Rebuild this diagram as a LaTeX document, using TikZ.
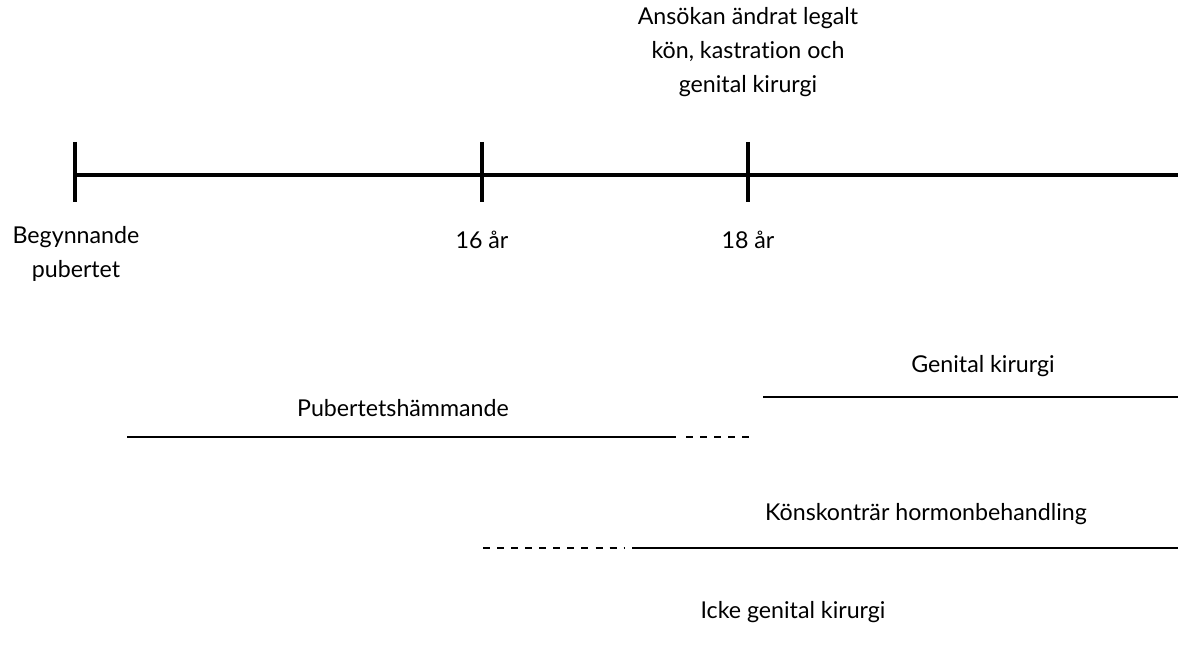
\documentclass[tikz,border=0pt]{standalone}
\usepackage{fontspec}
\setmainfont{Lato}[Ligatures={NoCommon}]
\usetikzlibrary{positioning}

\tikzset{
  axis/.style={line width=2.6pt},
  tick/.style={line width=2.2pt},
  bar/.style={line width=1.1pt},
  maybe/.style={line width=1.1pt,dash pattern=on 5pt off 5pt},
  lbl/.style={align=center,inner sep=0pt,font=\fontsize{16.5}{24}\selectfont}
}

\begin{document}
\begin{tikzpicture}[x=0.025cm,y=-0.025cm]
  \useasboundingbox (0,0) rectangle (1178,650);
  % timeline
  \coordinate (t0) at (75,175);
  \coordinate (tend) at (1178,175);
  \coordinate (t16) at (482,175);
  \coordinate (t18) at (748,175);
  \draw[axis] (t0) -- (tend);
  \foreach \t in {t0,t16,t18}
    \draw[tick] ([yshift=0.83cm]\t) -- ([yshift=-0.68cm]\t);
  \node[lbl] (start) at (76,254) {Begynnande\\pubertet};
  \node[lbl] (age16) at (482,240) {16 år};
  \node[lbl] (age18) at (748,240) {18 år};
  \node[lbl] (legal) at (748,52) {Ansökan ändrat legalt\\kön, kastration och\\genital kirurgi};
  % treatments
  \node[lbl] (gen) at (983,366) {Genital kirurgi};
  \coordinate (gen a) at (763,397);
  \coordinate (gen b) at (1178,397);
  \draw[bar] (gen a) -- (gen b);
  \node[lbl] (pub) at (403,408) {Pubertetshämmande};
  \coordinate (pub a) at (127,437);
  \coordinate (pub b) at (676,437);
  \coordinate (pub c) at (686,437);
  \coordinate (pub d) at (754,437);
  \draw[bar] (pub a) -- (pub b);
  \draw[maybe] (pub c) -- (pub d);
  \node[lbl] (hor) at (926,514) {Könskonträr hormonbehandling};
  \coordinate (hor a) at (483,548);
  \coordinate (hor b) at (624,548);
  \coordinate (hor c) at (632,548);
  \coordinate (hor d) at (1178,548);
  \draw[maybe] (hor a) -- (hor b);
  \draw[bar] (hor c) -- (hor d);
  \node[lbl] (icke) at (793,612) {Icke genital kirurgi};
\end{tikzpicture}
\end{document}
